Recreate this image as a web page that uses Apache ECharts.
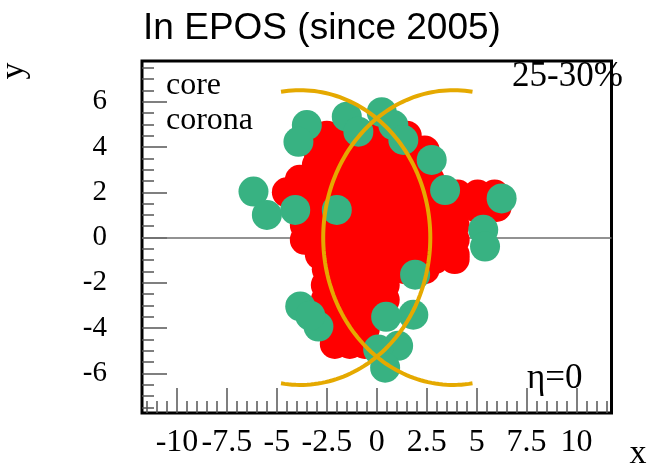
<!DOCTYPE html>
<html>
<head>
<meta charset="utf-8">
<script src="https://cdn.jsdelivr.net/npm/echarts@6/dist/echarts.min.js"></script>
<style>
html,body{margin:0;padding:0;background:#fff;}
#chart{width:650px;height:467px;}
</style>
</head>
<body>
<div id="chart"></div>
<script>
// ---- data ----
const xRange = [-11.75, 11.75];
const yRange = [-7.75, 7.8];
const xTickValues = [-10, -7.5, -5, -2.5, 0, 2.5, 5, 7.5, 10];
const yTickValues = [-6, -4, -2, 0, 2, 4, 6];
const minorStep = 0.5;

// core (red) cells
const corePoints = [
  [-2.5,4.5],[-1.6,4.5],[-0.6,4.5],[0.4,4.5],[1.5,4.5],
  [-2.95,3.85],[-2.1,3.85],[-1.1,3.85],[-0.1,3.85],[0.9,3.85],[1.9,3.85],[2.4,3.85],
  [-3.0,3.2],[-2.1,3.2],[-1.1,3.2],[-0.1,3.2],[0.9,3.2],[1.9,3.2],[2.4,3.2],
  [-3.85,2.55],[-2.95,2.55],[-2.1,2.55],[-1.1,2.55],[-0.1,2.55],[0.9,2.55],[1.9,2.55],[2.65,2.55],
  [-4.5,2.0],
  [-3.6,1.9],[-2.75,1.9],[-1.85,1.9],[-0.85,1.9],[0.15,1.9],[1.15,1.9],[2.15,1.9],[3.15,1.9],[4.05,1.9],[5.05,1.9],[5.9,1.9],
  [-3.6,1.25],[-2.75,1.25],[-1.85,1.25],[-0.85,1.25],[0.15,1.25],[1.15,1.25],[2.15,1.25],[3.15,1.25],[4.05,1.25],[5.05,1.3],[6.0,1.35],
  [-3.6,0.55],[-2.75,0.55],[-1.85,0.55],[-0.85,0.55],[0.15,0.55],[1.15,0.55],[2.15,0.55],[3.15,0.55],[3.9,0.55],
  [-3.6,-0.1],[-2.75,-0.1],[-1.85,-0.1],[-0.85,-0.1],[0.15,-0.1],[1.15,-0.1],[2.15,-0.1],[3.15,-0.1],[3.9,-0.1],
  [-2.85,-0.75],[-1.85,-0.75],[-0.85,-0.75],[0.15,-0.75],[1.15,-0.75],[2.15,-0.75],[3.15,-0.75],[3.9,-0.75],
  [2.9,-0.95],[3.9,-0.95],
  [-2.5,-1.4],[-1.6,-1.4],[-0.6,-1.4],[0.4,-1.4],[1.4,-1.4],[2.4,-1.4],
  [-2.55,-2.1],[-1.6,-2.1],[-0.6,-2.1],[0.4,-2.1],
  [-2.55,-2.75],[-1.6,-2.75],[-0.6,-2.75],[0.4,-2.75],
  [-2.35,-3.4],[-1.6,-3.4],[-0.6,-3.4],
  [-2.1,-4.05],[-1.35,-4.05],[-0.6,-4.05],
  [-2.1,-4.7],[-1.35,-4.7],[-0.6,-4.7]
];

// corona (green) cells
const coronaPoints = [
  [-3.5,4.97],[-3.92,4.23],[-6.17,2.03],[-5.5,1.0],[-4.08,1.22],[-2.0,1.22],
  [-1.5,5.34],[-0.92,4.68],[0.25,5.54],[0.83,4.97],[1.33,4.31],[2.75,3.43],
  [3.42,2.1],[6.25,1.73],[5.33,0.34],[5.42,-0.4],[1.92,-1.64],[1.83,-3.41],
  [0.47,-3.5],[1.07,-4.78],[0.07,-4.95],[0.42,-5.75],[-3.83,-3.04],[-2.92,-3.93],[-3.33,-3.45]
];

// nucleus outlines: [centerX, centerY, radius, startDeg, endDeg]
const nucleusArcs = [
  [-3.83, 0, 6.51, -98.5, 98.5],
  [3.83, 0, 6.51, 81.5, 278.5]
];

// ---- chart ----
const xMinor = [], yMinor = [];
for (let v = -11.5; v <= 11.5 + 1e-9; v += minorStep) xMinor.push(+v.toFixed(2));
for (let v = -7.5; v <= 7.5 + 1e-9; v += minorStep) yMinor.push(+v.toFixed(2));

const serif = 'Liberation Serif';
const tickColor = '#555';
const noLine = {show: false, onZero: false};

const chart = echarts.init(document.getElementById('chart'), null, {renderer: 'canvas'});
chart.setOption({
  animation: false,
  backgroundColor: '#fff',
  grid: {
    left: 142, right: 38.5, top: 61, bottom: 54,
    show: true, borderColor: '#000', borderWidth: 3, backgroundColor: 'transparent',
    containLabel: false, outerBoundsMode: 'none'
  },
  xAxis: [
    {
      type: 'value', min: xRange[0], max: xRange[1], position: 'bottom',
      axisLine: noLine, splitLine: {show: false},
      axisTick: {show: true, inside: true, length: 25, customValues: xTickValues, lineStyle: {color: tickColor, width: 1.5}},
      axisLabel: {show: true, customValues: xTickValues, margin: 14, color: '#000', fontFamily: serif, fontSize: 32}
    },
    {
      type: 'value', min: xRange[0], max: xRange[1], position: 'bottom',
      axisLine: noLine, splitLine: {show: false}, axisLabel: {show: false},
      axisTick: {show: true, inside: true, length: 12, customValues: xMinor, lineStyle: {color: tickColor, width: 1.5}}
    }
  ],
  yAxis: [
    {
      type: 'value', min: yRange[0], max: yRange[1], position: 'left',
      axisLine: noLine, splitLine: {show: false},
      axisTick: {show: true, inside: true, length: 25, customValues: yTickValues, lineStyle: {color: tickColor, width: 1.5}},
      axisLabel: {show: true, customValues: yTickValues, margin: 35, color: '#000', fontFamily: serif, fontSize: 29}
    },
    {
      type: 'value', min: yRange[0], max: yRange[1], position: 'left',
      axisLine: noLine, splitLine: {show: false}, axisLabel: {show: false},
      axisTick: {show: true, inside: true, length: 12, customValues: yMinor, lineStyle: {color: tickColor, width: 1.5}}
    }
  ],
  series: [
    {
      name: 'core', type: 'scatter', xAxisIndex: 0, yAxisIndex: 0, z: 2,
      symbol: 'circle', symbolSize: 30, data: corePoints,
      itemStyle: {color: '#FF0000', opacity: 1},
      emphasis: {disabled: true}, silent: true,
      markLine: {
        silent: true, symbol: 'none', z: 1, animation: false,
        label: {show: false},
        lineStyle: {color: '#6e6e6e', width: 1.5, type: 'solid'},
        data: [{yAxis: 0}]
      }
    },
    {
      name: 'corona', type: 'scatter', xAxisIndex: 0, yAxisIndex: 0, z: 3,
      symbol: 'circle', symbolSize: 30, data: coronaPoints,
      itemStyle: {color: '#38B282', opacity: 1},
      emphasis: {disabled: true}, silent: true
    },
    {
      name: 'nucleus', type: 'custom', xAxisIndex: 0, yAxisIndex: 0, z: 4, silent: true,
      data: nucleusArcs,
      renderItem: function (params, api) {
        const cx = api.value(0), cy = api.value(1), r = api.value(2);
        const a0 = api.value(3), a1 = api.value(4);
        const pts = [];
        const n = 120;
        for (let i = 0; i <= n; i++) {
          const a = (a0 + (a1 - a0) * i / n) * Math.PI / 180;
          pts.push(api.coord([cx + r * Math.cos(a), cy + r * Math.sin(a)]));
        }
        return {type: 'polyline', shape: {points: pts}, style: {stroke: '#E5A900', lineWidth: 4, fill: 'none'}};
      }
    }
  ],
  graphic: [
    {type: 'text', x: 322, y: 29, z: 10, style: {text: 'In EPOS (since 2005)', font: '37px "Liberation Sans"', fill: '#000', align: 'center', verticalAlign: 'middle'}},
    {type: 'text', x: 166, y: 86, z: 10, style: {text: 'core', font: '32px "Liberation Serif"', fill: '#000', align: 'left', verticalAlign: 'middle'}},
    {type: 'text', x: 166, y: 121, z: 10, style: {text: 'corona', font: '32px "Liberation Serif"', fill: '#000', align: 'left', verticalAlign: 'middle'}},
    {type: 'text', x: 512, y: 77, z: 10, style: {text: '25-30%', font: '35px "Liberation Serif"', fill: '#000', align: 'left', verticalAlign: 'middle'}},
    {type: 'text', x: 527, y: 379, z: 10, style: {text: 'η=0', font: '35px "Liberation Serif"', fill: '#000', align: 'left', verticalAlign: 'middle'}},
    {type: 'text', x: 14, y: 71, rotation: Math.PI / 2, z: 10, style: {text: 'y', font: '34px "Liberation Serif"', fill: '#000', align: 'center', verticalAlign: 'middle'}},
    {type: 'text', x: 638, y: 454, z: 10, style: {text: 'x', font: '34px "Liberation Serif"', fill: '#000', align: 'center', verticalAlign: 'middle'}}
  ]
});
</script>
</body>
</html>
